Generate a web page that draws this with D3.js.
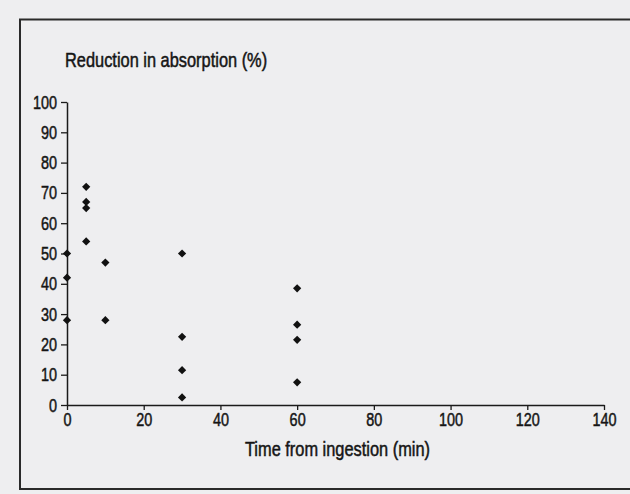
<!DOCTYPE html>
<html>
<head>
<meta charset="utf-8">
<script src="https://cdn.jsdelivr.net/npm/d3@7"></script>
<style>
  html, body { margin: 0; padding: 0; background: #eeeef0; }
  svg { display: block; }
  text { font-family: "Liberation Sans", Arial, sans-serif; fill: #151515; stroke: #151515; stroke-width: 0.5px; }
</style>
</head>
<body>
<svg id="chart" width="630" height="494"></svg>
<script>
// Time from ingestion (min) and the measured reduction in absorption (%)
const times      = [0, 0, 0, 5, 5, 5, 5, 10, 10, 30, 30, 30, 30, 60, 60, 60, 60];
const reductions = [50, 42, 28, 72, 67, 65, 54, 47, 28, 50, 22.5, 11.5, 2.5, 38.5, 26.5, 21.5, 7.5];

const xTicks = [0, 20, 40, 60, 80, 100, 120, 140];
const yTicks = [0, 10, 20, 30, 40, 50, 60, 70, 80, 90, 100];

const yTitle = "Reduction in absorption (%)";
const xTitle = "Time from ingestion (min)";

const svg = d3.select("#chart");
const W = 630, H = 494;
const ink = "#1a1a1a";

// Condensed look: regular sans squeezed horizontally
const squeezeTicks = 0.76, squeezeTitles = 0.82;

// Plot area
const plotLeft = 67, plotRight = 604, plotTop = 102, plotBottom = 405;

const x = d3.scaleLinear().domain([0, 140]).range([plotLeft, plotRight]);
const y = d3.scaleLinear().domain([0, 100]).range([plotBottom, plotTop]);

// Outer frame (left, top and bottom edges)
svg.append("path")
  .attr("d", `M${W},19.5 H20 V489 H${W}`)
  .attr("fill", "none")
  .attr("stroke", "#2a2a2a")
  .attr("stroke-width", 2);

// X axis
const gx = svg.append("g")
  .attr("transform", `translate(0,${plotBottom})`)
  .call(d3.axisBottom(x).tickValues(xTicks).tickSize(5).tickSizeOuter(0).tickPadding(3));

// Y axis
const gy = svg.append("g")
  .attr("transform", `translate(${plotLeft},0)`)
  .call(d3.axisLeft(y).tickValues(yTicks).tickSize(6).tickSizeOuter(0).tickPadding(4));

[gx, gy].forEach(g => {
  g.select(".domain").attr("stroke", ink).attr("stroke-width", 1.5);
  g.selectAll(".tick line").attr("stroke", ink).attr("stroke-width", 1.3);
  g.selectAll(".tick text")
    .attr("fill", ink)
    .attr("transform", `scale(${squeezeTicks},1)`)
    .style("font-size", "19px")
    .style("font-family", "'Liberation Sans', Arial, sans-serif");
});
// keep the y labels' right edge next to the tick marks after squeezing
gy.selectAll(".tick text").attr("x", -10 / squeezeTicks);

// Axis titles
svg.append("text")
  .attr("transform", `translate(65,67) scale(${squeezeTitles},1)`)
  .style("font-size", "20px")
  .text(yTitle);

svg.append("text")
  .attr("transform", `translate(${(plotLeft + plotRight) / 2 + 2},456) scale(${squeezeTitles},1)`)
  .attr("text-anchor", "middle")
  .style("font-size", "20px")
  .text(xTitle);

// Data points as small diamonds
const diamond = d3.symbol().type(d3.symbolSquare).size(34);
svg.append("g")
  .selectAll("path")
  .data(times.map((t, i) => ({ t, r: reductions[i] })))
  .join("path")
  .attr("d", diamond)
  .attr("transform", d => `translate(${x(d.t)},${y(d.r)}) rotate(45)`)
  .attr("fill", "#111");
</script>
</body>
</html>
